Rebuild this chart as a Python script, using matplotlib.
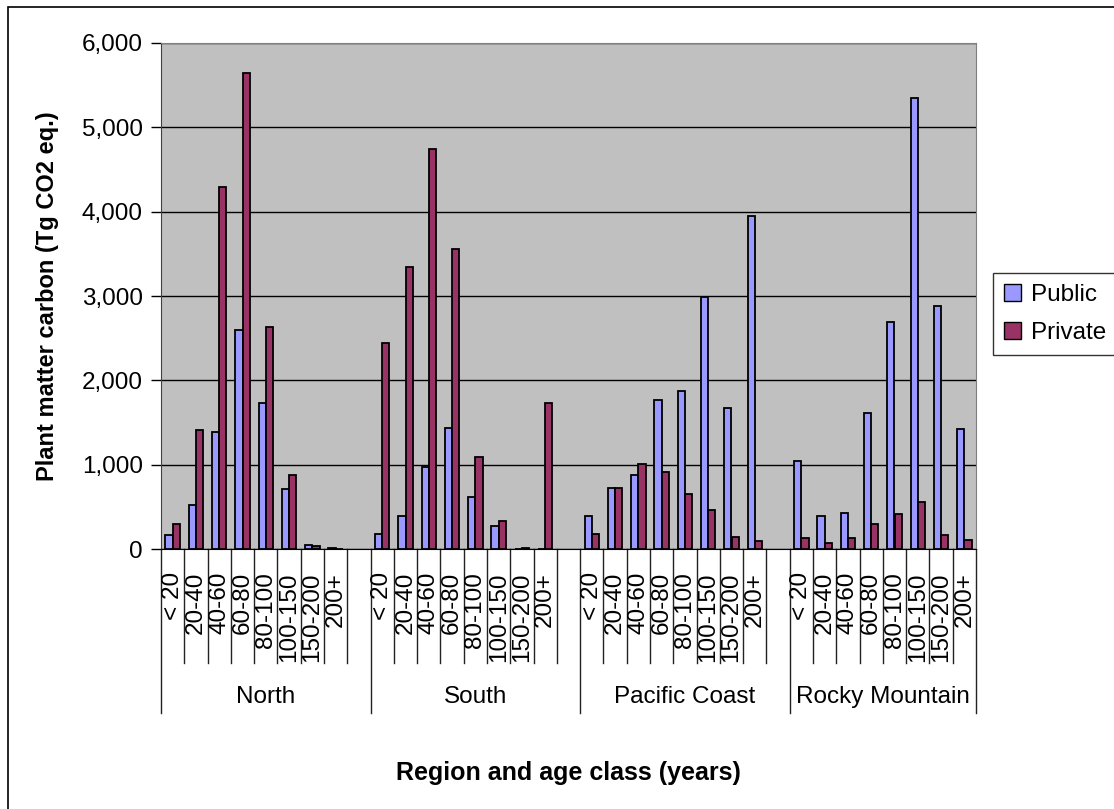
import matplotlib
matplotlib.use("Agg")
import matplotlib.pyplot as plt
from matplotlib.patches import Rectangle, Patch
from matplotlib.ticker import FuncFormatter

plt.rcParams["font.family"] = ["Liberation Sans", "DejaVu Sans"]

age_classes = ["< 20", "20-40", "40-60", "60-80", "80-100", "100-150", "150-200", "200+"]
regions = ["North", "South", "Pacific Coast", "Rocky Mountain"]

public_north = [162, 526, 1389, 2592, 1730, 708, 51, 15]
private_north = [297, 1409, 4290, 5648, 2636, 883, 32, 0]
public_south = [182, 388, 977, 1429, 613, 277, 0, 0]
private_south = [2442, 3348, 4745, 3554, 1088, 332, 15, 1730]
public_pacific = [388, 728, 883, 1769, 1876, 2992, 1670, 3950]
private_pacific = [182, 728, 1013, 918, 657, 467, 146, 91]
public_rocky = [1045, 388, 431, 1615, 2691, 5343, 2877, 1425]
private_rocky = [131, 75, 131, 297, 412, 562, 162, 111]

public = [public_north, public_south, public_pacific, public_rocky]
private = [private_north, private_south, private_pacific, private_rocky]

PUBLIC_COLOR = "#9999FF"
PRIVATE_COLOR = "#993366"
W, H = 1114, 809

fig = plt.figure(figsize=(W / 100, H / 100), dpi=100)
ax = fig.add_axes([161 / W, 1 - 549 / H, 815 / W, 506 / H])
ax.set_facecolor("#C0C0C0")

# each region gets one blank slot after it, except the last
n = len(age_classes)
starts = []
pos = 0
for i, r in enumerate(regions):
    starts.append(pos)
    pos += n + (1 if i < len(regions) - 1 else 0)
total = pos

bw = 0.31
for r in range(len(regions)):
    xs = [starts[r] + j + 0.5 for j in range(n)]
    ax.bar([x - bw / 2 for x in xs], public[r], width=bw, color=PUBLIC_COLOR,
           edgecolor="black", linewidth=1.3, zorder=3)
    ax.bar([x + bw / 2 for x in xs], private[r], width=bw, color=PRIVATE_COLOR,
           edgecolor="black", linewidth=1.3, zorder=3)

ax.set_xlim(0, total)
ax.set_ylim(0, 6000)
ax.set_yticks(range(0, 6001, 1000))
ax.yaxis.set_major_formatter(FuncFormatter(lambda v, p: f"{int(v):,}"))
ax.tick_params(axis="y", labelsize=17.5, length=7, width=1, direction="out", pad=6)
ax.set_xticks([])
ax.grid(axis="y", color="black", linewidth=1)
ax.set_axisbelow(True)
for side in ["top", "right"]:
    ax.spines[side].set_color("#808080")
ax.spines["left"].set_color("#404040")
ax.spines["bottom"].set_color("black")

# multi-level category axis
tr = ax.get_xaxis_transform()
inner_bottom = -(663 - 549) / 506
outer_bottom = -(713 - 549) / 506
label_top = -(572 - 549) / 506
region_y = -(697 - 549) / 506
for r in range(len(regions)):
    s = starts[r]
    end = starts[r + 1] if r + 1 < len(regions) else total
    for k in range(s + 1, end):
        ax.plot([k, k], [0, inner_bottom], transform=tr, color="#222222",
                linewidth=1, clip_on=False)
    for j, lab in enumerate(age_classes):
        ax.text(s + j + 0.5, label_top, lab, transform=tr, rotation=90,
                ha="center", va="top", fontsize=17.5)
    ax.text((s + end) / 2, region_y, regions[r], transform=tr,
            ha="center", va="center", fontsize=17.5)
for k in starts + [total]:
    ax.plot([k, k], [0, outer_bottom], transform=tr, color="#222222",
            linewidth=1, clip_on=False)

fig.text(48 / W, 1 - 296 / H, "Plant matter carbon (Tg CO2 eq.)", rotation=90,
         ha="center", va="center", fontsize=17, fontweight="bold")
fig.text(568 / W, 1 - 773 / H, "Region and age class (years)",
         ha="center", va="center", fontsize=18, fontweight="bold")

handles = [Patch(facecolor=PUBLIC_COLOR, edgecolor="black", label="Public"),
           Patch(facecolor=PRIVATE_COLOR, edgecolor="black", label="Private")]
leg = fig.legend(handles=handles, loc="upper left", bbox_to_anchor=(993 / W, 1 - 273 / H),
                 borderaxespad=0, fontsize=17.5, frameon=True, fancybox=False,
                 handlelength=0.7, handleheight=0.7, handletextpad=0.4,
                 labelspacing=0.65, borderpad=0.45)
leg.get_frame().set_edgecolor("black")
leg.get_frame().set_linewidth(1)

# chart area border
fig.add_artist(Rectangle((8 / W, -0.1), 2, 1 - 7 / H + 0.1, transform=fig.transFigure,
                         fill=False, edgecolor="black", linewidth=1.2))

fig.savefig("out.png", dpi=100)
